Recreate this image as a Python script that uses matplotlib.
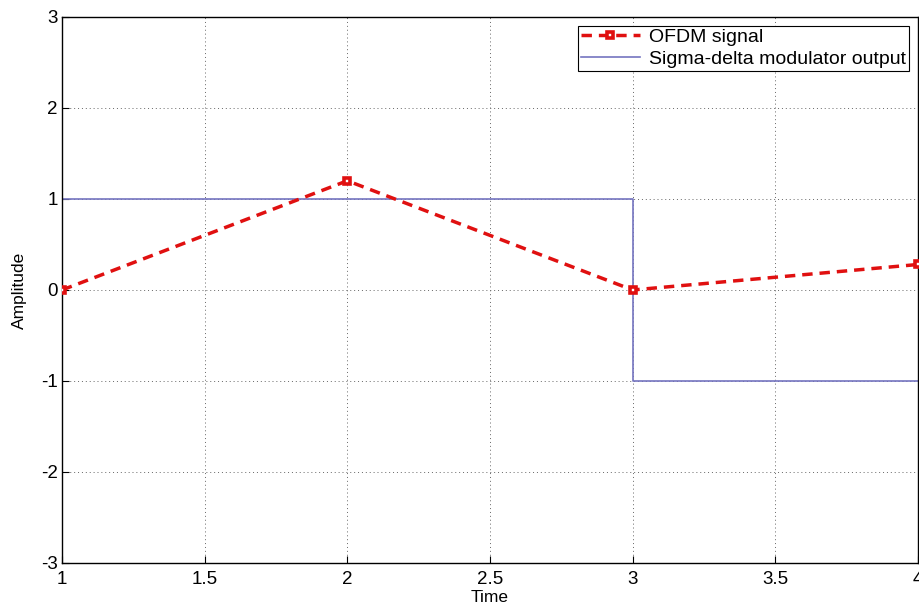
import matplotlib
matplotlib.use("Agg")
import matplotlib.pyplot as plt

plt.rcParams['font.family'] = ['Liberation Sans', 'DejaVu Sans']
plt.rcParams['axes.unicode_minus'] = False

# data
time = [1, 2, 3, 4]
ofdm = [0.0, 1.2, 0.0, 0.28]
sigma_delta = [1, 1, -1, -1]

fig = plt.figure(figsize=(9.2, 6.06), dpi=100)
ax = fig.add_axes([0.0674, 0.071, 0.9304, 0.901])

ax.plot(time, sigma_delta, drawstyle='steps-post', color='#7474c0', linewidth=1.2,
        label='Sigma-delta modulator output', zorder=2)
ax.plot(time, ofdm, '--', color='#e01010', linewidth=2.5, marker='s', markersize=5,
        markerfacecolor='white', markeredgecolor='#e01010', markeredgewidth=2.6,
        dashes=(3, 2), label='OFDM signal', zorder=3)

ax.set_xlim(1, 4)
ax.set_ylim(-3, 3)
ax.set_xticks([1, 1.5, 2, 2.5, 3, 3.5, 4])
ax.set_xticklabels(['1', '1.5', '2', '2.5', '3', '3.5', '4'])
ax.set_yticks([-3, -2, -1, 0, 1, 2, 3])
ax.grid(True, linestyle=(0, (1, 3)), color='#666666', linewidth=0.7)
ax.tick_params(direction='in', labelsize=13.5, length=5)
ax.tick_params(axis='x', pad=6)
ax.tick_params(axis='y', pad=3)
for s in ax.spines.values():
    s.set_linewidth(1.0)
ax.set_xlabel('Time', fontsize=12.5, labelpad=1)
ax.set_ylabel('Amplitude', fontsize=12.5, labelpad=10)

handles, labels = ax.get_legend_handles_labels()
leg = ax.legend(handles[::-1], labels[::-1], loc='upper right', fontsize=14,
                fancybox=False, edgecolor='black', framealpha=1,
                borderpad=0.15, handlelength=3.0, handletextpad=0.5,
                labelspacing=0.2, borderaxespad=0.45)
leg.get_frame().set_linewidth(0.8)

fig.savefig('out.png', dpi=100)
